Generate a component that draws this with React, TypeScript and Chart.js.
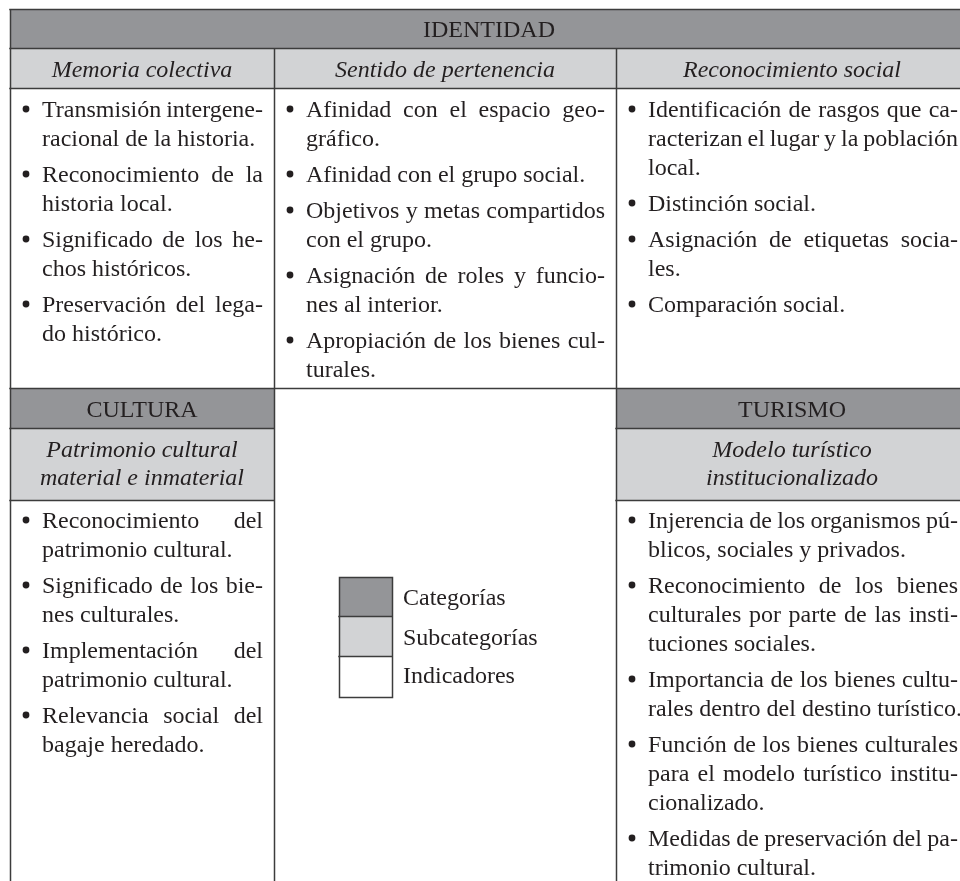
import React, { useEffect, useRef } from "react";
import { Chart, registerables } from "chart.js";

Chart.register(...registerables);

// ---------- DATA (text content) ----------
const categoryLabels = ["IDENTIDAD", "CULTURA", "TURISMO"];
const identidadSubcategories = ["Memoria colectiva", "Sentido de pertenencia", "Reconocimiento social"];
const culturaSubcategory = ["Patrimonio cultural", "material e inmaterial"];
const turismoSubcategory = ["Modelo turístico", "institucionalizado"];

const memoriaIndicators = [
  ["Transmisión intergene-", "racional de la historia."],
  ["Reconocimiento de la", "historia local."],
  ["Significado de los he-", "chos históricos."],
  ["Preservación del lega-", "do histórico."],
];
const pertenenciaIndicators = [
  ["Afinidad con el espacio geo-", "gráfico."],
  ["Afinidad con el grupo social."],
  ["Objetivos y metas compartidos", "con el grupo."],
  ["Asignación de roles y funcio-", "nes al interior."],
  ["Apropiación de los bienes cul-", "turales."],
];
const reconocimientoIndicators = [
  ["Identificación de rasgos que ca-", "racterizan el lugar y la población", "local."],
  ["Distinción social."],
  ["Asignación de etiquetas socia-", "les."],
  ["Comparación social."],
];
const patrimonioIndicators = [
  ["Reconocimiento del", "patrimonio cultural."],
  ["Significado de los bie-", "nes culturales."],
  ["Implementación del", "patrimonio cultural."],
  ["Relevancia social del", "bagaje heredado."],
];
const modeloIndicators = [
  ["Injerencia de los organismos pú-", "blicos, sociales y privados."],
  ["Reconocimiento de los bienes", "culturales por parte de las insti-", "tuciones sociales."],
  ["Importancia de los bienes cultu-", "rales dentro del destino turístico."],
  ["Función de los bienes culturales", "para el modelo turístico institu-", "cionalizado."],
  ["Medidas de preservación del pa-", "trimonio cultural."],
];
const legendLabels = ["Categorías", "Subcategorías", "Indicadores"];

// ---------- LAYOUT / STYLE ----------
const XL = 10, XC1 = 274, XC2 = 616, XR = 968;
const YT = 9, YH1 = 48, YH2 = 88, YR2 = 388, YR2H1 = 428, YR2H2 = 500, YB = 900;
const DARK = "#949598";
const LIGHT = "#d2d3d5";
const LINE = "#3c3c3c";
const TEXT = "#231f20";
const FONT = '24px "Liberation Serif", "Times New Roman", serif';
const IFONT = 'italic 24px "Liberation Serif", "Times New Roman", serif';
const LINE_H = 29;
const PARA_GAP = 7;

function drawJustified(ctx: CanvasRenderingContext2D, text: string, x0: number, x1: number, y: number) {
  const words = text.split(" ");
  const widths = words.map((w) => ctx.measureText(w).width);
  const total = widths.reduce((a, b) => a + b, 0);
  const gaps = words.length - 1;
  if (gaps === 0) {
    ctx.fillText(text, x0, y);
    return;
  }
  let gap = (x1 - x0 - total) / gaps;
  if (gap < 3) {
    const natural = total + 3 * gaps;
    const s = (x1 - x0) / natural;
    ctx.save();
    ctx.translate(x0, y);
    ctx.scale(s, 1);
    let x = 0;
    words.forEach((w, i) => {
      ctx.fillText(w, x, 0);
      x += widths[i] + 3;
    });
    ctx.restore();
    return;
  }
  let x = x0;
  words.forEach((w, i) => {
    ctx.fillText(w, x, y);
    x += widths[i] + gap;
  });
}

const tablePlugin = {
  id: "tablePlugin",
  afterDraw(chart: any) {
    const ctx: CanvasRenderingContext2D = chart.ctx;
    const sx = chart.scales.x;
    const sy = chart.scales.y;
    const px = (v: number) => sx.getPixelForValue(v);
    const py = (v: number) => sy.getPixelForValue(v);

    const rect = (x0: number, y0: number, x1: number, y1: number, color: string) => {
      ctx.fillStyle = color;
      ctx.fillRect(px(x0), py(y0), px(x1) - px(x0), py(y1) - py(y0));
    };
    const hline = (y: number, x0: number, x1: number) => {
      ctx.beginPath();
      ctx.moveTo(px(x0) - 0.75, Math.round(py(y)) + 0.5);
      ctx.lineTo(px(x1), Math.round(py(y)) + 0.5);
      ctx.stroke();
    };
    const vline = (x: number, y0: number, y1: number) => {
      ctx.beginPath();
      ctx.moveTo(Math.round(px(x)) + 0.5, py(y0));
      ctx.lineTo(Math.round(px(x)) + 0.5, py(y1));
      ctx.stroke();
    };

    ctx.save();
    // fills
    rect(XL, YT, XR, YH1, DARK);
    rect(XL, YH1, XR, YH2, LIGHT);
    rect(XL, YR2, XC1, YR2H1, DARK);
    rect(XL, YR2H1, XC1, YR2H2, LIGHT);
    rect(XC2, YR2, XR, YR2H1, DARK);
    rect(XC2, YR2H1, XR, YR2H2, LIGHT);

    // legend boxes
    const lx0 = 339, lx1 = 392;
    const ly = [577, 616, 656, 697];
    rect(lx0, ly[0], lx1, ly[1], DARK);
    rect(lx0, ly[1], lx1, ly[2], LIGHT);
    rect(lx0, ly[2], lx1, ly[3], "#ffffff");

    // lines
    ctx.strokeStyle = LINE;
    ctx.lineWidth = 1.5;
    hline(YT, XL, XR);
    hline(YH1, XL, XR);
    hline(YH2, XL, XR);
    hline(YR2, XL, XR);
    hline(YR2H1, XL, XC1);
    hline(YR2H2, XL, XC1);
    hline(YR2H1, XC2, XR);
    hline(YR2H2, XC2, XR);
    vline(XL, YT, YB);
    vline(XC1, YH1, YB);
    vline(XC2, YH1, YB);
    ctx.strokeRect(Math.round(px(lx0)) + 0.5, Math.round(py(ly[0])) + 0.5, px(lx1) - px(lx0), py(ly[3]) - py(ly[0]));
    hline(ly[1], lx0, lx1);
    hline(ly[2], lx0, lx1);

    // text
    ctx.fillStyle = TEXT;
    ctx.textBaseline = "alphabetic";
    ctx.font = FONT;
    ctx.textAlign = "center";
    ctx.fillText(categoryLabels[0], px((XL + XR) / 2), py(37));
    ctx.fillText(categoryLabels[1], px((XL + XC1) / 2), py(417));
    ctx.fillText(categoryLabels[2], px((XC2 + XR) / 2), py(417));

    ctx.font = IFONT;
    const centers = [(XL + XC1) / 2, (XC1 + XC2) / 2, (XC2 + XR) / 2];
    identidadSubcategories.forEach((s, i) => ctx.fillText(s, px(centers[i]), py(77)));
    culturaSubcategory.forEach((s, i) => ctx.fillText(s, px(centers[0]), py(457 + i * 28)));
    turismoSubcategory.forEach((s, i) => ctx.fillText(s, px(centers[2]), py(457 + i * 28)));

    ctx.font = FONT;
    ctx.textAlign = "left";
    const drawParas = (paras: string[][], cellL: number, cellR: number, firstBase: number) => {
      const bulletX = cellL + 16;
      const x0 = px(cellL + 32);
      const x1 = px(cellR - 11);
      let y = firstBase;
      paras.forEach((lines) => {
        ctx.beginPath();
        ctx.arc(px(bulletX), py(y - 8), 3.4, 0, Math.PI * 2);
        ctx.fill();
        lines.forEach((line, i) => {
          if (i < lines.length - 1) drawJustified(ctx, line, x0, x1, py(y));
          else ctx.fillText(line, x0, py(y));
          y += LINE_H;
        });
        y += PARA_GAP;
      });
    };
    drawParas(memoriaIndicators, XL, XC1, 117);
    drawParas(pertenenciaIndicators, XC1, XC2, 117);
    drawParas(reconocimientoIndicators, XC2, XR + 1, 117);
    drawParas(patrimonioIndicators, XL, XC1, 528);
    drawParas(modeloIndicators, XC2, XR + 1, 528);

    legendLabels.forEach((t, i) => ctx.fillText(t, px(403), py([605, 645, 683][i])));
    ctx.restore();
  },
};

export default function App() {
  const ref = useRef<HTMLCanvasElement | null>(null);
  useEffect(() => {
    if (!ref.current) return;
    const chart = new Chart(ref.current, {
      type: "scatter",
      data: { datasets: [{ data: [] }] },
      options: {
        responsive: false,
        animation: false,
        devicePixelRatio: 1,
        layout: { padding: 0 },
        plugins: { legend: { display: false }, tooltip: { enabled: false } },
        scales: {
          x: { type: "linear", min: 0, max: 960, display: false },
          y: { type: "linear", min: 0, max: 881, reverse: true, display: false },
        },
      },
      plugins: [tablePlugin],
    } as any);
    return () => chart.destroy();
  }, []);
  return (
    <div style={{ position: "absolute", left: 0, top: 0, width: 960, height: 881, background: "#fff" }}>
      <canvas ref={ref} width={960} height={881} style={{ display: "block" }} />
    </div>
  );
}
